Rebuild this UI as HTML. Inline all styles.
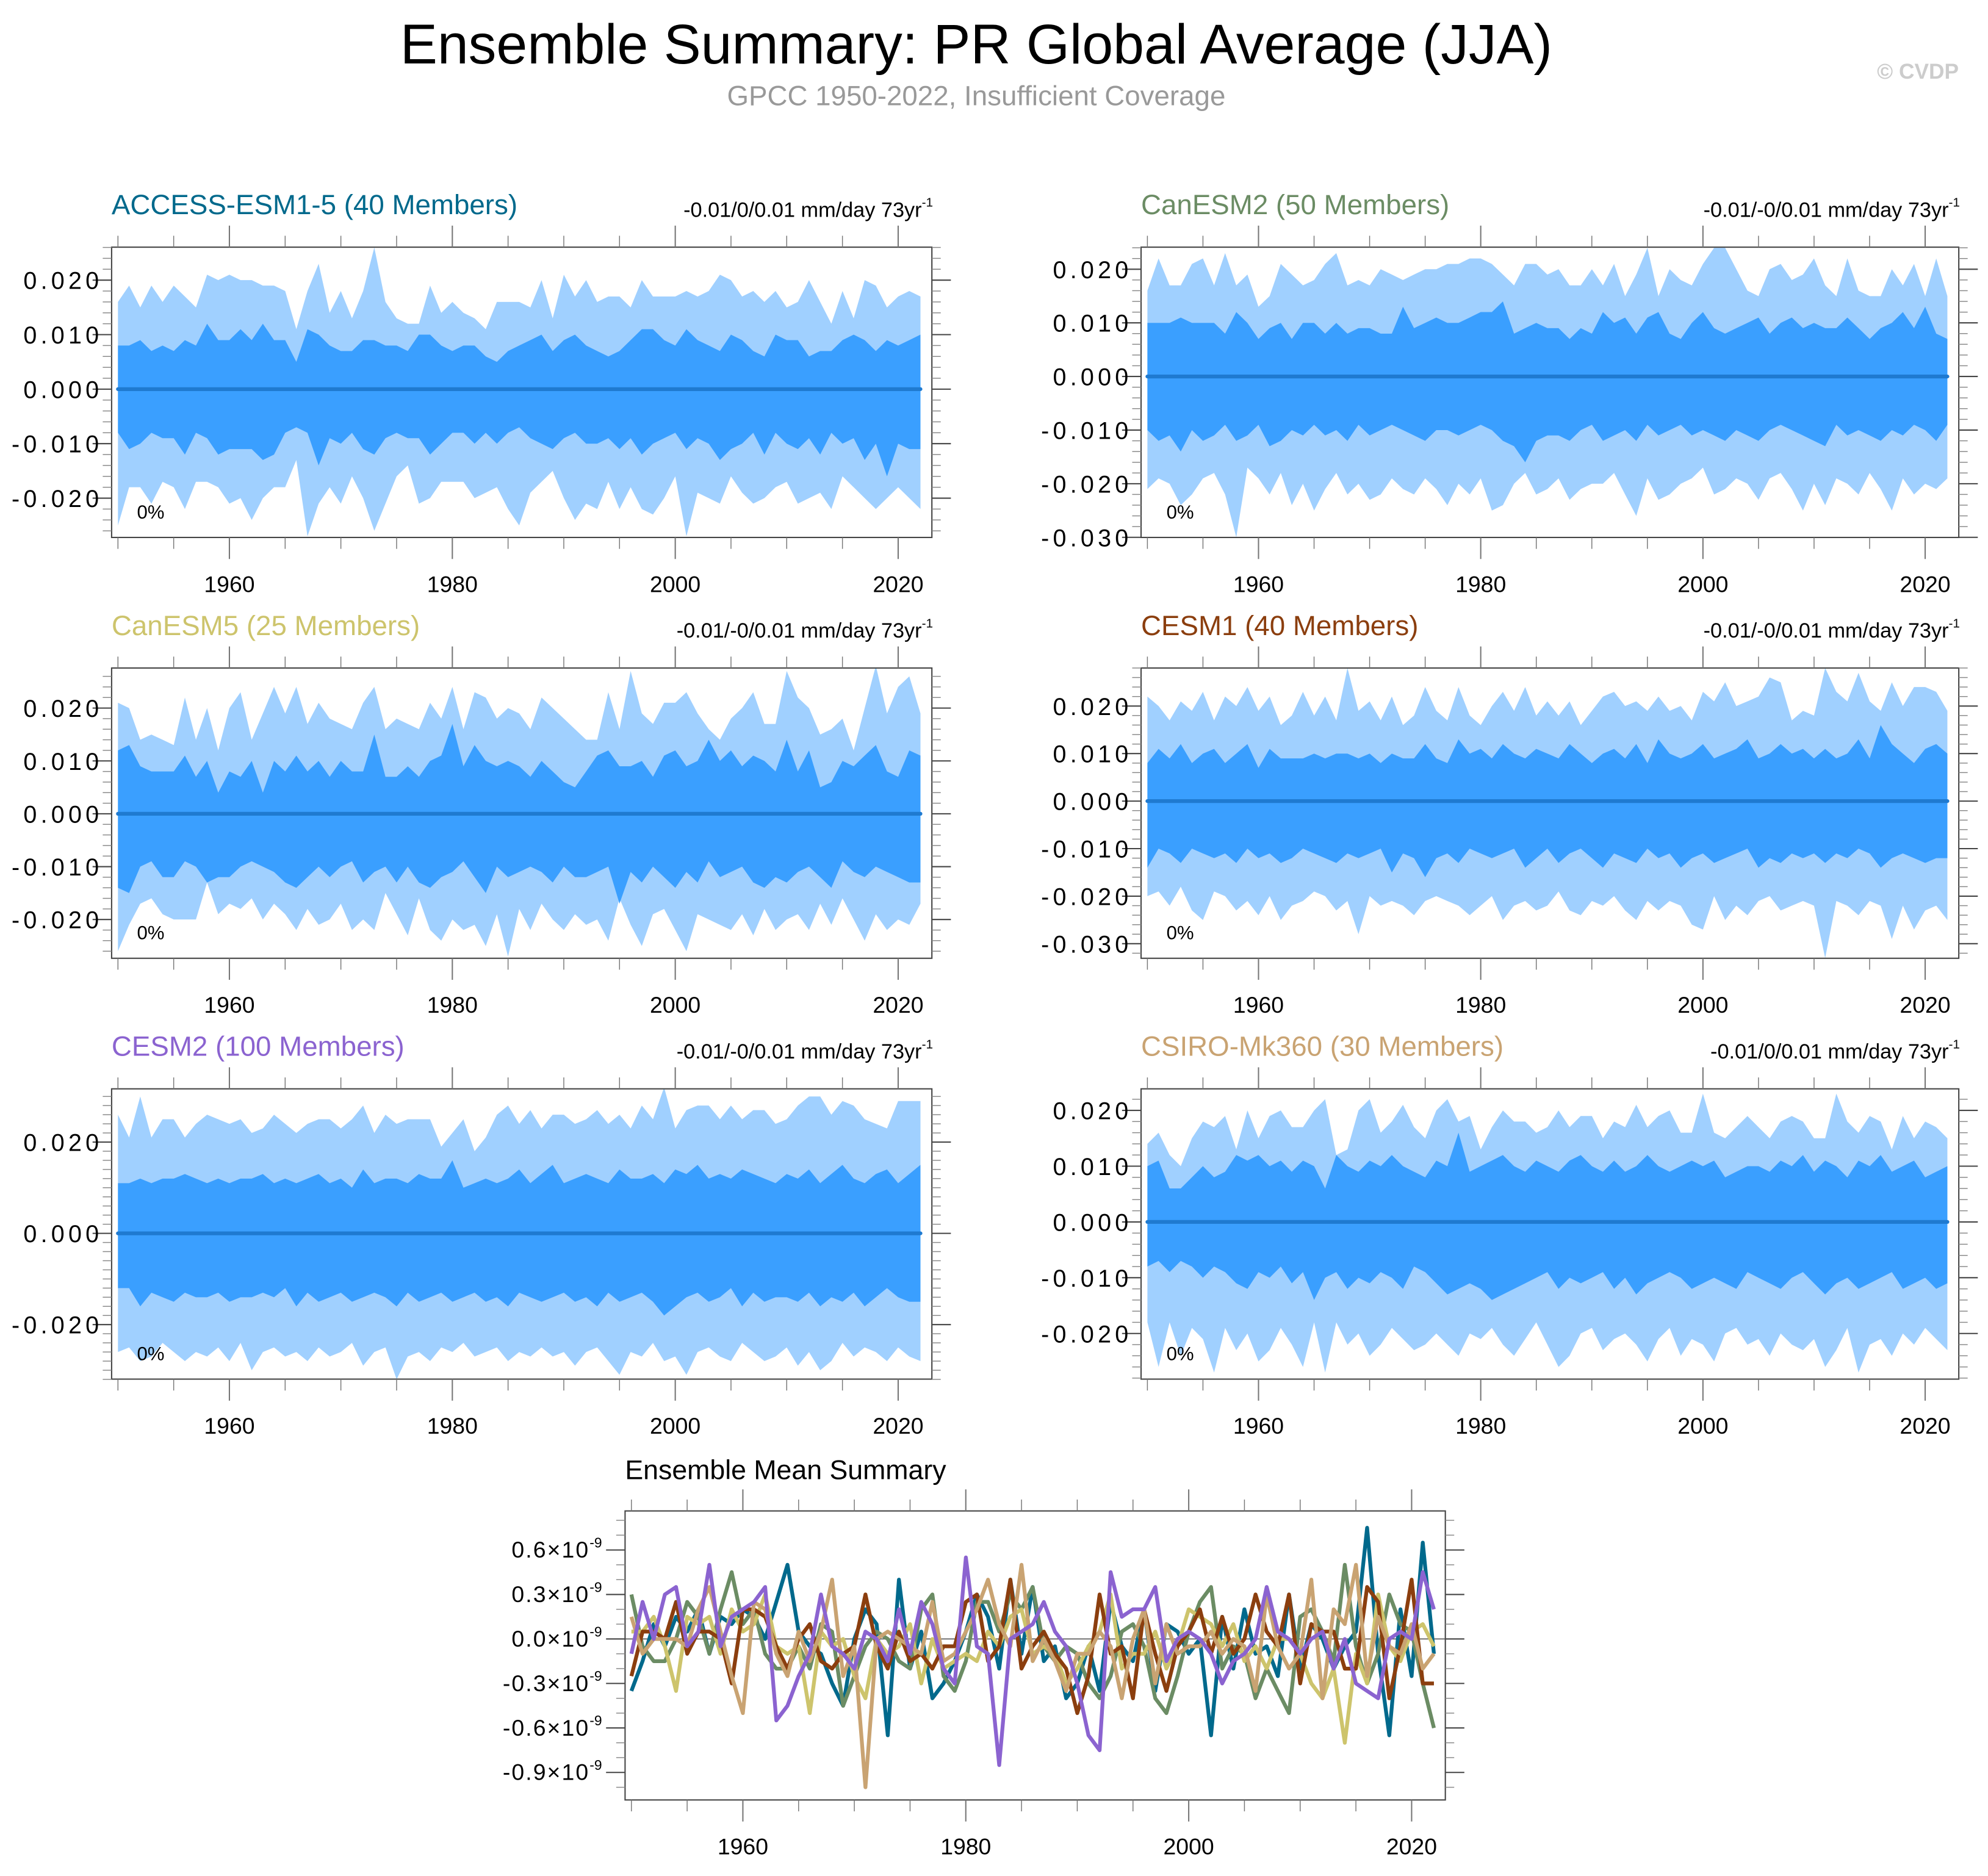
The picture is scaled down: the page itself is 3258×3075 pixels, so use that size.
<!DOCTYPE html>
<html><head><meta charset="utf-8">
<style>
html,body{margin:0;padding:0;background:#fff;}
svg{display:block;font-family:"Liberation Sans",sans-serif;}
</style></head>
<body>
<svg id="chart" width="3258" height="3075" viewBox="0 0 1568 1480" xmlns="http://www.w3.org/2000/svg">
<rect x="0" y="0" width="1568" height="1480" fill="#fff"/>
<text x="770" y="50" font-size="44" text-anchor="middle" fill="#000">Ensemble Summary: PR Global Average (JJA)</text>
<text x="770" y="83" font-size="22" text-anchor="middle" fill="#999">GPCC 1950-2022, Insufficient Coverage</text>
<text x="1545" y="62" font-size="17" font-weight="bold" text-anchor="end" fill="#ccc">© CVDP</text>
<g id="panels"></g>
</svg>
<script>
// ---- data (units of 0.001 mm/day) ----
const years = Array.from({length:73},(_,i)=>1950+i);
const p1OuterUp=[16,19,15,19,16,19,17,15,21,20,21,20,20,19,19,18,11,18,23,14,18,13,18,26,16,13,12,12,19,14,16,14,13,11,16,16,16,15,20,13,21,17,20,16,17,17,15,20,17,17,17,18,17,18,21,20,17,18,16,18,15,16,20,16,12,18,13,20,19,15,17,18,17];
const p1InnerUp=[8,8,9,7,8,7,9,8,12,9,9,11,9,12,9,9,5,11,10,8,7,7,9,9,8,8,7,10,10,8,7,8,8,6,5,7,8,9,10,7,9,10,8,7,6,7,9,11,11,9,8,11,9,8,7,10,9,7,6,10,9,9,6,7,7,9,10,9,7,9,8,9,10];
const p1InnerLo=[-8,-11,-10,-8,-9,-9,-12,-8,-9,-12,-11,-11,-11,-13,-12,-8,-7,-8,-14,-9,-10,-8,-11,-12,-9,-8,-9,-9,-12,-10,-8,-8,-10,-8,-10,-8,-7,-9,-10,-11,-9,-8,-10,-10,-9,-11,-9,-12,-10,-9,-8,-11,-9,-10,-13,-11,-10,-8,-12,-8,-10,-11,-9,-12,-8,-10,-9,-13,-10,-16,-10,-11,-11];
const p1OuterLo=[-25,-18,-18,-21,-17,-18,-22,-17,-17,-18,-21,-20,-24,-20,-18,-18,-13,-27,-21,-18,-21,-16,-20,-26,-21,-16,-14,-21,-20,-17,-17,-17,-20,-19,-18,-22,-25,-19,-17,-15,-20,-24,-21,-22,-17,-22,-18,-22,-23,-20,-16,-27,-19,-20,-21,-16,-19,-21,-20,-18,-17,-21,-20,-19,-22,-16,-18,-20,-22,-20,-18,-20,-22];

const p2OuterUp=[16,22,17,17,21,22,17,23,17,19,13,15,21,19,17,18,21,23,17,18,17,20,19,18,19,20,20,21,21,22,22,21,19,17,21,21,19,20,17,17,20,17,21,15,19,24,15,20,18,17,21,24,24,20,16,15,20,21,18,19,22,17,15,22,16,15,15,20,17,21,15,22,15];
const p2InnerUp=[10,10,10,11,10,10,10,8,12,10,7,9,10,7,10,10,8,10,8,9,9,8,8,13,9,10,11,10,10,11,12,12,14,8,9,10,9,9,7,9,8,12,10,11,8,11,12,8,7,10,12,9,8,9,10,11,8,10,11,9,10,9,9,11,9,7,9,10,12,9,13,8,7];
const p2InnerLo=[-10,-12,-11,-14,-10,-12,-11,-9,-12,-11,-9,-13,-12,-10,-11,-9,-11,-10,-12,-9,-11,-10,-9,-10,-11,-12,-10,-10,-11,-10,-9,-10,-12,-13,-16,-12,-11,-11,-12,-10,-9,-12,-11,-10,-12,-9,-11,-10,-9,-11,-10,-11,-12,-10,-11,-12,-10,-9,-10,-11,-12,-13,-9,-11,-10,-11,-12,-10,-11,-9,-10,-12,-9];
const p2OuterLo=[-21,-19,-20,-24,-22,-19,-18,-22,-30,-17,-19,-22,-18,-24,-20,-25,-21,-18,-22,-20,-23,-22,-19,-21,-22,-19,-21,-24,-20,-22,-19,-25,-24,-20,-18,-22,-21,-19,-23,-21,-20,-20,-18,-22,-26,-19,-23,-22,-20,-19,-17,-22,-21,-19,-20,-23,-19,-18,-21,-25,-20,-24,-19,-20,-22,-18,-21,-25,-19,-22,-20,-21,-19];

const p3OuterUp=[21,20,14,15,14,13,22,14,20,12,20,23,14,19,24,19,24,17,21,18,17,16,21,24,16,18,17,16,21,18,24,16,23,22,18,20,19,16,22,20,18,16,14,14,23,16,27,19,17,21,21,23,19,16,14,18,20,23,17,17,27,22,20,15,16,18,12,20,28,19,24,26,19];
const p3InnerUp=[12,13,9,8,8,8,11,7,10,4,8,7,10,4,10,8,11,8,10,7,10,8,8,15,7,7,9,7,10,11,17,9,13,10,9,10,9,7,10,8,6,5,8,11,12,9,9,10,7,11,12,9,10,14,10,12,9,11,10,8,14,8,12,5,6,10,9,11,13,8,7,12,11];
const p3InnerLo=[-14,-15,-10,-9,-12,-12,-9,-10,-13,-12,-12,-10,-9,-10,-11,-13,-14,-12,-10,-12,-10,-9,-13,-11,-10,-13,-10,-13,-14,-12,-11,-9,-12,-15,-10,-12,-11,-10,-11,-13,-10,-12,-12,-11,-10,-17,-11,-13,-10,-12,-14,-11,-13,-9,-12,-11,-10,-13,-14,-12,-13,-11,-10,-12,-14,-9,-11,-12,-10,-11,-12,-13,-13];
const p3OuterLo=[-26,-21,-17,-16,-19,-20,-20,-20,-13,-19,-17,-18,-16,-20,-17,-19,-22,-18,-21,-20,-17,-22,-20,-22,-15,-19,-23,-16,-22,-24,-20,-22,-21,-25,-19,-27,-18,-22,-17,-20,-22,-19,-21,-20,-24,-16,-21,-25,-19,-18,-22,-26,-19,-20,-21,-22,-19,-23,-18,-22,-20,-19,-22,-17,-21,-16,-20,-24,-19,-22,-20,-21,-17];

const p4OuterUp=[22,20,17,21,19,23,17,22,20,24,19,22,16,18,23,18,22,17,28,19,21,17,22,16,18,24,19,17,24,18,16,20,23,19,24,18,21,18,21,16,19,22,23,20,21,19,22,19,20,17,23,21,25,20,21,22,26,25,17,19,18,28,23,21,27,21,19,25,20,24,24,23,19];
const p4InnerUp=[8,11,9,12,8,10,11,8,10,12,7,11,9,9,9,10,9,10,10,9,10,8,10,9,9,12,9,8,13,10,11,9,12,10,9,11,10,9,12,10,8,10,11,9,12,8,13,10,9,10,12,9,10,11,13,9,10,12,10,11,9,11,9,10,13,9,16,12,10,8,11,12,10];
const p4InnerLo=[-14,-10,-11,-13,-10,-11,-12,-11,-13,-10,-12,-11,-13,-12,-10,-11,-12,-13,-11,-12,-11,-10,-15,-11,-12,-16,-12,-11,-13,-10,-11,-12,-11,-10,-14,-12,-10,-13,-11,-10,-12,-14,-11,-12,-13,-10,-12,-11,-14,-12,-11,-13,-12,-11,-10,-14,-12,-13,-11,-12,-11,-13,-11,-12,-10,-11,-14,-12,-11,-12,-13,-12,-12];
const p4OuterLo=[-20,-19,-22,-18,-23,-25,-19,-20,-23,-21,-24,-20,-25,-22,-21,-19,-20,-23,-21,-28,-20,-22,-21,-22,-24,-21,-20,-21,-22,-24,-22,-20,-25,-22,-21,-23,-22,-19,-23,-24,-21,-22,-20,-23,-25,-21,-23,-21,-22,-26,-27,-20,-25,-22,-24,-21,-20,-23,-22,-21,-22,-33,-21,-22,-24,-21,-22,-29,-22,-27,-23,-22,-25];

const p5OuterUp=[26,21,30,21,25,25,21,24,26,25,24,25,22,23,26,24,22,24,25,25,23,25,28,22,26,24,25,25,25,19,22,25,18,21,26,28,24,27,23,26,26,24,25,27,24,26,23,28,25,32,23,27,28,28,25,28,25,27,27,24,25,28,30,30,26,29,28,25,24,23,29,29,29];
const p5InnerUp=[11,11,12,11,12,12,13,12,11,12,11,12,12,13,11,12,11,12,13,11,12,10,14,11,12,12,11,13,12,12,16,10,11,12,11,12,14,11,13,15,11,12,13,12,11,14,12,12,13,11,14,13,15,12,13,12,14,13,12,11,13,12,14,11,13,15,12,11,13,14,11,13,15];
const p5InnerLo=[-12,-12,-16,-13,-14,-15,-13,-14,-14,-13,-15,-14,-14,-13,-14,-12,-16,-13,-15,-14,-13,-15,-14,-13,-14,-16,-13,-15,-14,-13,-15,-14,-13,-15,-14,-16,-13,-14,-15,-14,-13,-15,-14,-16,-13,-15,-14,-13,-15,-18,-16,-14,-13,-15,-14,-12,-16,-13,-15,-14,-14,-15,-13,-16,-14,-15,-13,-16,-14,-12,-14,-15,-15];
const p5OuterLo=[-26,-25,-28,-27,-24,-26,-28,-26,-27,-25,-28,-24,-30,-26,-25,-27,-26,-28,-25,-27,-26,-24,-29,-26,-25,-32,-27,-26,-28,-25,-26,-24,-27,-26,-25,-28,-26,-27,-25,-27,-26,-29,-26,-25,-28,-31,-26,-27,-24,-28,-27,-31,-26,-25,-27,-28,-24,-26,-28,-27,-25,-29,-26,-30,-28,-24,-27,-25,-26,-28,-25,-27,-28];

const p6OuterUp=[14,16,12,10,15,18,17,19,13,20,15,19,20,17,17,20,22,12,13,20,22,16,18,21,17,15,20,22,18,19,13,17,20,18,18,16,17,20,17,19,19,15,18,17,21,17,19,20,16,16,23,16,15,17,19,17,15,18,19,18,15,15,23,18,16,19,18,13,19,15,18,17,15];
const p6InnerUp=[10,11,6,6,8,10,8,9,12,11,12,10,11,9,11,10,6,12,10,9,11,10,12,10,9,8,11,10,16,9,10,11,12,10,9,11,10,9,11,12,10,9,11,9,10,12,10,9,10,11,10,11,8,9,10,10,9,11,10,12,9,11,10,8,11,10,12,9,10,11,8,9,10];
const p6InnerLo=[-8,-7,-9,-7,-8,-10,-8,-9,-11,-12,-9,-10,-8,-11,-9,-14,-10,-9,-12,-10,-11,-9,-10,-12,-8,-9,-11,-13,-12,-11,-12,-14,-13,-12,-11,-10,-9,-12,-10,-11,-10,-9,-12,-10,-13,-11,-10,-9,-10,-12,-11,-10,-11,-12,-9,-10,-11,-12,-10,-9,-11,-13,-11,-10,-12,-11,-10,-9,-12,-11,-10,-12,-11];
const p6OuterLo=[-18,-26,-18,-24,-19,-21,-27,-19,-23,-20,-25,-23,-19,-22,-26,-18,-27,-18,-22,-20,-24,-22,-19,-21,-23,-22,-20,-22,-24,-20,-21,-19,-22,-24,-21,-18,-22,-26,-24,-20,-19,-23,-21,-20,-22,-25,-21,-19,-24,-21,-22,-25,-20,-19,-22,-21,-24,-20,-22,-23,-21,-26,-23,-19,-27,-22,-21,-24,-20,-22,-19,-21,-23];

// ensemble means (units of 0.01e-9)
const meanAccess=[-35,-15,10,-5,15,5,20,-10,15,10,20,15,0,25,50,5,-5,-10,-30,-45,0,20,10,-65,40,-20,5,-40,-30,-15,5,30,15,-20,40,-10,35,-15,-5,-40,-30,-5,-35,25,-5,-15,20,-35,10,5,-10,0,-65,15,-20,20,-10,-5,-25,30,-20,10,0,-20,-5,5,75,-10,-65,20,-25,65,-10];
const meanCanesm2=[30,-5,-15,-15,0,25,15,-10,20,45,10,20,-10,-20,-20,-5,-20,10,5,-45,-25,-5,5,0,-15,-20,20,30,-25,-35,-15,25,25,5,30,20,35,-5,-15,-5,-10,-30,-40,-25,5,10,-5,-40,-50,-25,5,25,35,-20,-5,-10,-40,-20,-35,-50,15,20,5,-15,50,-5,-30,-10,30,10,5,-30,-60];
const meanCanesm5=[5,5,15,-5,-35,15,10,15,-10,20,5,10,30,-5,-10,-5,-50,5,-5,0,-25,-40,0,-10,-5,10,-30,0,-20,-15,-10,-15,5,-5,15,20,-10,-5,-10,-30,-20,-5,5,30,-20,-10,-10,5,-20,-5,20,15,10,-5,10,-15,-5,-20,0,0,-10,-30,-40,-20,-70,-10,-30,30,-5,-15,5,10,-5];
const meanCesm1=[-25,5,5,0,25,-10,5,5,0,-30,20,20,15,-5,-20,0,10,-15,-20,-10,-5,30,-5,-20,5,-15,-10,-20,-5,-5,25,30,-15,-5,40,-20,-5,5,-10,-20,-50,-25,30,-10,-5,-40,20,-10,-35,-5,5,20,-10,15,-10,0,30,5,-5,30,-30,10,5,5,-20,-20,35,25,-40,-5,40,-30,-30];
const meanCsiro=[15,-10,0,0,0,-5,20,35,5,-25,-50,25,20,-10,-25,5,-15,5,40,-25,-5,-100,0,5,0,-5,-10,25,-15,-10,5,20,40,10,-5,50,-15,0,-15,-35,-10,-10,5,-5,-40,0,20,-30,10,-10,-5,-5,5,-10,0,-5,-35,30,-5,-20,-10,40,-40,20,10,50,-25,15,-5,-10,10,-20,-10];
const meanCesm2=[-10,25,0,30,35,-5,5,50,-5,15,20,25,35,-55,-45,-25,-10,30,-5,-10,-20,5,0,-15,20,-10,25,10,-20,-30,55,-5,-10,-85,0,5,10,25,5,-5,-30,-65,-75,45,15,20,20,35,-15,0,5,0,-10,-30,-15,-10,0,35,5,0,-10,0,5,-20,0,-30,-35,-40,0,5,0,45,20];

const SERIES=[[meanAccess,'#00698c','access-mean-line'],[meanCanesm2,'#6b8c64','canesm2-mean-line'],[meanCanesm5,'#cdc46c','canesm5-mean-line'],[meanCesm1,'#8b3e0e','cesm1-mean-line'],[meanCsiro,'#c9a372','csiro-mean-line'],[meanCesm2,'#8b63d0','cesm2-mean-line']];

const NS='http://www.w3.org/2000/svg';
const root=document.getElementById('panels');
function mk(tag,attrs,parent){const e=document.createElementNS(NS,tag);for(const k in attrs)e.setAttribute(k,attrs[k]);(parent||root).appendChild(e);return e;}

const PANELS=[
 {id:'access',title:'ACCESS-ESM1-5 (40 Members)',col:'#00698c',rt:'-0.01/0/0.01 mm/day 73yr',x0:88,x1:735,y0:195,y1:424,zero:307,ppu:4.3,yt:[20,10,0,-10,-20],d:[p1OuterUp,p1InnerUp,p1InnerLo,p1OuterLo]},
 {id:'canesm2',title:'CanESM2 (50 Members)',col:'#6b8c64',rt:'-0.01/-0/0.01 mm/day 73yr',x0:900,x1:1545,y0:195,y1:424,zero:297,ppu:4.23,yt:[20,10,0,-10,-20,-30],d:[p2OuterUp,p2InnerUp,p2InnerLo,p2OuterLo]},
 {id:'canesm5',title:'CanESM5 (25 Members)',col:'#cdc46c',rt:'-0.01/-0/0.01 mm/day 73yr',x0:88,x1:735,y0:527,y1:756,zero:642,ppu:4.17,yt:[20,10,0,-10,-20],d:[p3OuterUp,p3InnerUp,p3InnerLo,p3OuterLo]},
 {id:'cesm1',title:'CESM1 (40 Members)',col:'#8b3e0e',rt:'-0.01/-0/0.01 mm/day 73yr',x0:900,x1:1545,y0:527,y1:756,zero:632,ppu:3.75,yt:[20,10,0,-10,-20,-30],d:[p4OuterUp,p4InnerUp,p4InnerLo,p4OuterLo]},
 {id:'cesm2',title:'CESM2 (100 Members)',col:'#8b63d0',rt:'-0.01/-0/0.01 mm/day 73yr',x0:88,x1:735,y0:859,y1:1088,zero:973,ppu:3.6,yt:[20,0,-20],d:[p5OuterUp,p5InnerUp,p5InnerLo,p5OuterLo]},
 {id:'csiro',title:'CSIRO-Mk360 (30 Members)',col:'#c9a372',rt:'-0.01/0/0.01 mm/day 73yr',x0:900,x1:1545,y0:859,y1:1088,zero:964,ppu:4.4,yt:[20,10,0,-10,-20],d:[p6OuterUp,p6InnerUp,p6InnerLo,p6OuterLo]}
];

function axes(g,x0,x1,y0,y1,xs,ys,yMinor,yMajor,labelFn,nameP){
  mk('rect',{x:x0,y:y0,width:x1-x0,height:y1-y0,fill:'none',stroke:'#444','stroke-width':1},g);
  for(let yr=1950;yr<=2020;yr+=5){
    const X=xs(yr),maj=yr%20===0,L=maj?17:9;
    mk('line',{x1:X,x2:X,y1:y1,y2:y1+L,stroke:'#777','stroke-width':maj?1:0.7},g);
    mk('line',{x1:X,x2:X,y1:y0,y2:y0-L,stroke:'#777','stroke-width':maj?1:0.7},g);
    if(maj){const t=mk('text',{x:X,y:y1+43,'font-size':18,'text-anchor':'middle',fill:'#000'},g);t.textContent=yr;
      
      }
  }
  yMinor.forEach(v=>{const Y=ys(v);if(Y<y0-0.5||Y>y1+0.5)return;
    mk('line',{x1:x0,x2:x0-7,y1:Y,y2:Y,stroke:'#888','stroke-width':0.7},g);
    mk('line',{x1:x1,x2:x1+7,y1:Y,y2:Y,stroke:'#888','stroke-width':0.7},g);});
  yMajor.forEach(v=>{const Y=ys(v);
    mk('line',{x1:x0,x2:x0-15,y1:Y,y2:Y,stroke:'#444','stroke-width':1},g);
    mk('line',{x1:x1,x2:x1+15,y1:Y,y2:Y,stroke:'#444','stroke-width':1},g);
    labelFn(v,Y);});
}

PANELS.forEach(p=>{
  const g=mk('g',{});
  
  
  const xs=yr=>p.x0+5+(yr-1950)*((p.x1-p.x0-14)/72);
  const ys=v=>p.zero-v*p.ppu;
  const cid='clip-'+p.id;
  const cp=mk('clipPath',{id:cid},g);mk('rect',{x:p.x0,y:p.y0,width:p.x1-p.x0,height:p.y1-p.y0},cp);
  const band=(up,lo,fill,name)=>{
    let pts=up.map((v,i)=>xs(years[i]).toFixed(1)+','+ys(v).toFixed(1));
    for(let i=lo.length-1;i>=0;i--)pts.push(xs(years[i]).toFixed(1)+','+ys(lo[i]).toFixed(1));
    const e=mk('polygon',{points:pts.join(' '),fill:fill,'clip-path':'url(#'+cid+')'},g);
    
    
  };
  band(p.d[0],p.d[3],'#a0d0ff',p.id+'-outer-band');
  band(p.d[1],p.d[2],'#3a9fff',p.id+'-inner-band');
  const zl=mk('line',{x1:xs(1950),x2:xs(2022),y1:ys(0),y2:ys(0),stroke:'#1f7ad0','stroke-width':3,'stroke-linecap':'round'},g);
  
  
  const minors=[];for(let v=-34;v<=34;v+=2)minors.push(v);
  axes(g,p.x0,p.x1,p.y0,p.y1,xs,ys,minors,p.yt,(v,Y)=>{
    const t=mk('text',{x:p.x0-7,y:Y+7,'font-size':19,'letter-spacing':3,'text-anchor':'end',fill:'#000'},g);
    t.textContent=(v/1000).toFixed(3);
    
    
  },p.id);
  const tt=mk('text',{x:p.x0,y:p.y0-26,'font-size':22,fill:p.col},g);tt.textContent=p.title;
  
  
  const rt=mk('text',{x:p.x1-8,y:p.y0-24,'font-size':16.5,'text-anchor':'end',fill:'#000'},g);rt.textContent=p.rt;
  
  
  const sup=mk('text',{x:p.x1-8,y:p.y0-32,'font-size':10,fill:'#000'},g);sup.textContent='-1';
  
  
  const pc=mk('text',{x:p.x0+20,y:p.y1-15,'font-size':15,fill:'#000'},g);pc.textContent='0%';
  
  
});

// bottom ensemble mean panel
(function(){
  const x0=493,x1=1140,y0=1192,y1=1420,zero=1293,ppu=1.17;
  const g=mk('g',{});
  
  
  const xs=yr=>x0+5+(yr-1950)*((x1-x0-14)/72);
  const ys=v=>zero-v*ppu;
  const cp=mk('clipPath',{id:'clip-mean'},g);mk('rect',{x:x0,y:y0,width:x1-x0,height:y1-y0},cp);
  mk('line',{x1:x0,x2:x1,y1:ys(0),y2:ys(0),stroke:'#555','stroke-width':0.8},g);
  SERIES.forEach(s=>{
    const pts=s[0].map((v,i)=>xs(years[i]).toFixed(1)+','+ys(v).toFixed(1)).join(' ');
    const e=mk('polyline',{points:pts,fill:'none',stroke:s[1],'stroke-width':3,'stroke-linejoin':'round','clip-path':'url(#clip-mean)'},g);
    
    
  });
  const minors=[];for(let v=-100;v<=80;v+=10)minors.push(v);
  axes(g,x0,x1,y0,y1,xs,ys,minors,[60,30,0,-30,-60,-90],(v,Y)=>{
    const t=mk('text',{x:x0-28,y:Y+6,'font-size':18,'letter-spacing':1,'text-anchor':'end',fill:'#000'},g);
    t.textContent=(v/100).toFixed(1)+'×10';
    
    
    const s=mk('text',{x:x0-28,y:Y-2,'font-size':11,fill:'#000'},g);s.textContent='-9';
    
    
  },'mean');
  const tt=mk('text',{x:x0,y:y0-25,'font-size':21.5,fill:'#000'},g);tt.textContent='Ensemble Mean Summary';
  
  
})();
</script>
</body></html>
